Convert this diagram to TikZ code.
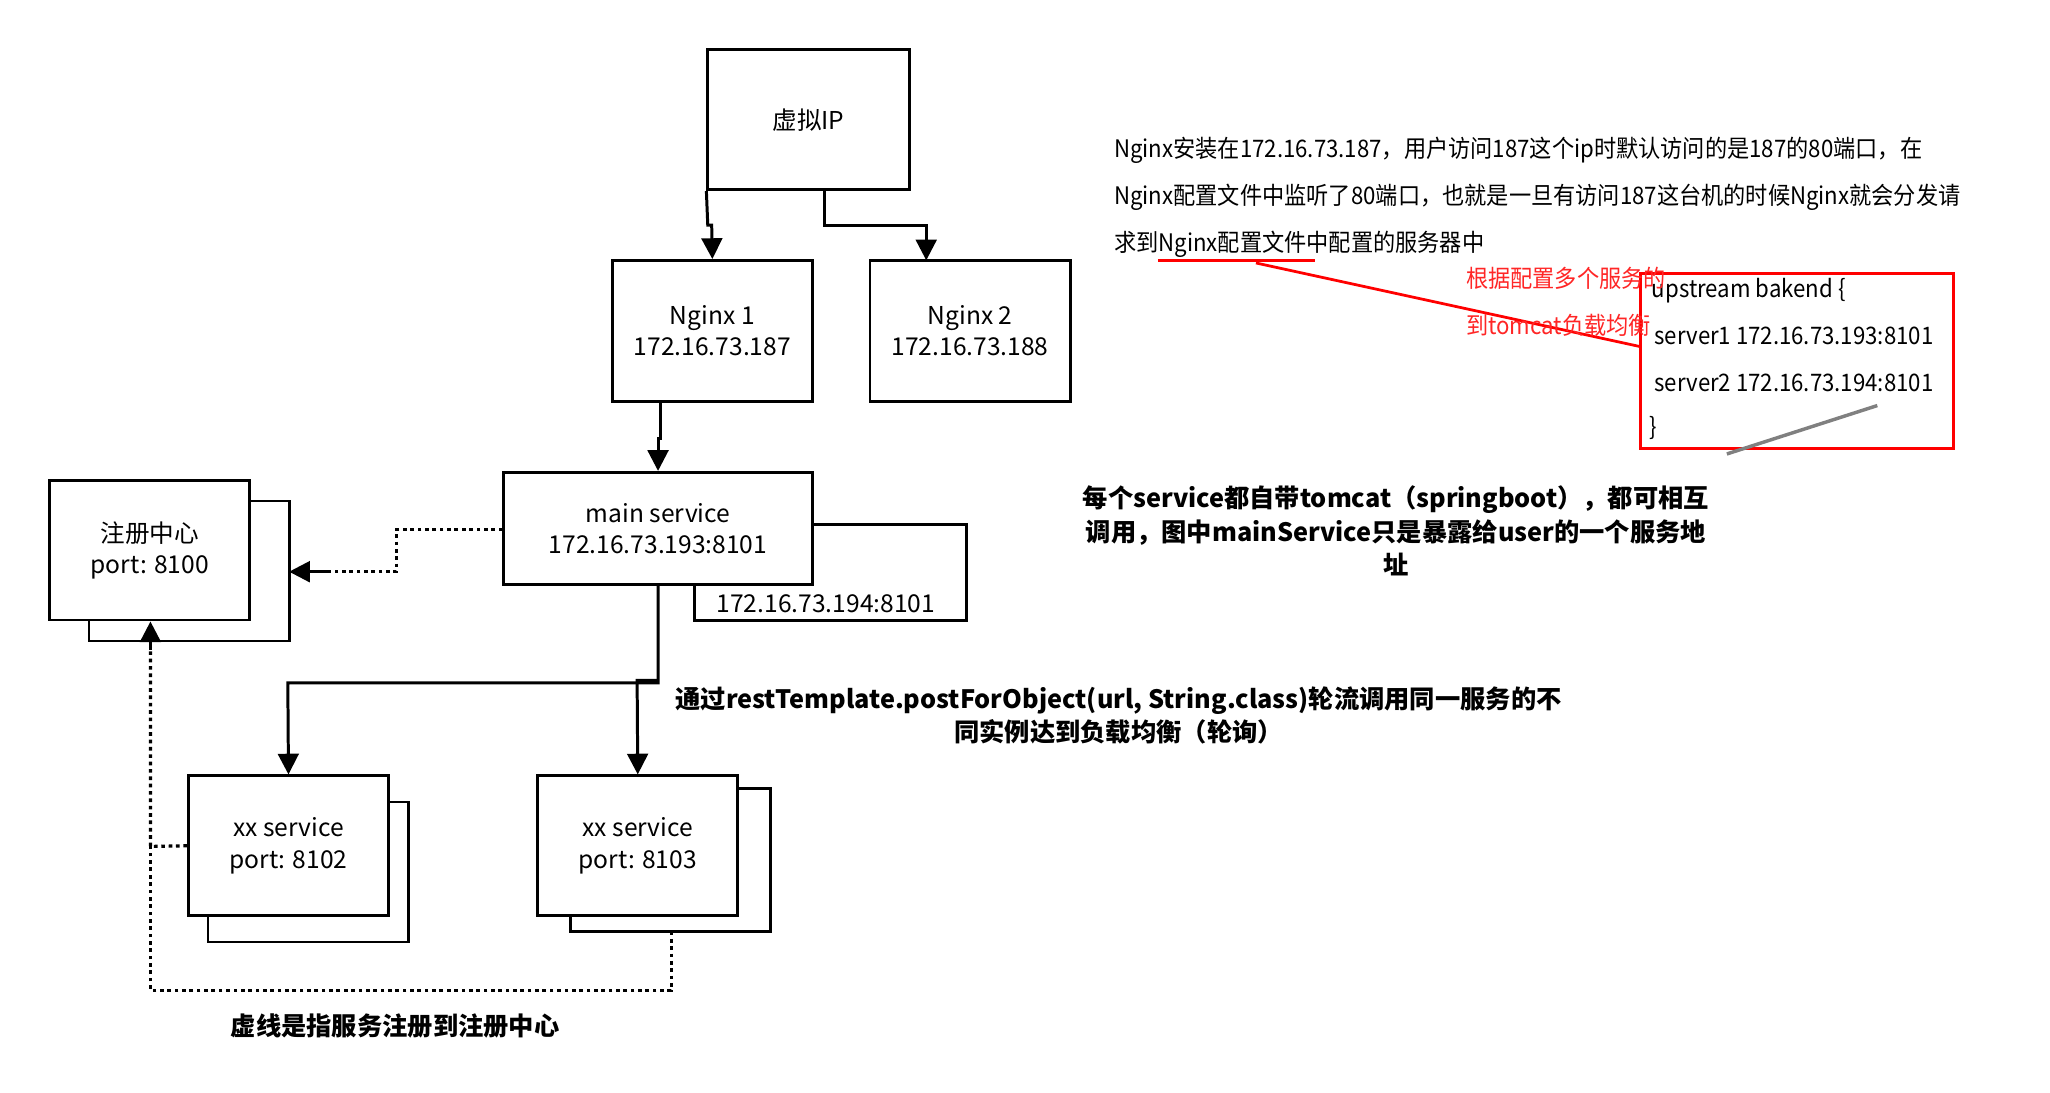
\documentclass[tikz,border=0pt]{standalone}
\usepackage{fontspec}
\setmainfont{Noto Sans CJK SC}
\usetikzlibrary{arrows.meta}
\begin{document}
\begin{tikzpicture}[x=0.02cm,y=-0.02cm,
  bx/.style={draw,line width=1.2pt,fill=white},
  lbl/.style={font=\fontsize{10.7}{13.5}\selectfont,align=center},
  arr/.style={line width=1.3pt,-{Triangle[length=9pt,width=9pt]}},
  dot/.style={line width=1.4pt,dash pattern=on 1.6pt off 1.6pt},
  bt/.style={font=\fontsize{11}{14.5}\selectfont\bfseries,align=center},
  sc/.style={font=\fontsize{10.5}{12}\selectfont,anchor=west,xscale=0.92}]
\useasboundingbox[fill=white] (0,0) rectangle (1567,835);
% top
\node[bx,minimum width=154*0.02cm,minimum height=107*0.02cm,lbl] (vip) at (618,91.5) {虚拟IP};
\node[bx,minimum width=153*0.02cm,minimum height=108*0.02cm,lbl] (n1) at (544.5,253) {Nginx 1\\172.16.73.187};
\node[bx,minimum width=153*0.02cm,minimum height=108*0.02cm,lbl] (n2) at (741.5,253) {Nginx 2\\172.16.73.188};
\draw[arr] (vip.south west) -- (541,172) -- (544,172) -- (n1.north);
\draw[arr] (630,145) -- (630,172) -- (708,172) -- (708,199);
% main
\node[bx,minimum width=208*0.02cm,minimum height=73*0.02cm,anchor=north west] (m2) at (530,400) {};
\node[lbl,anchor=south east] at (721,475) {172.16.73.194:8101};
\node[bx,minimum width=236*0.02cm,minimum height=86*0.02cm,lbl] (ms) at (503,404) {main service\\172.16.73.193:8101};
\draw[arr] (505,307) -- (505,335) -- (503,335) -- (ms.north);
% registry
\node[bx,minimum width=153*0.02cm,minimum height=107*0.02cm] (r2) at (144.5,436.5) {};
\node[bx,minimum width=153*0.02cm,minimum height=107*0.02cm,lbl] (reg) at (114.5,420.5) {注册中心\\port: 8100};
\draw[dot] (ms.west |- 0,405) -- (303,405) -- (303,437) -- (245,437);
\draw[arr] (250,437) -- (221,437);
% services
\node[bx,minimum width=153*0.02cm,minimum height=107*0.02cm] (s1b) at (235.5,666.5) {};
\node[bx,minimum width=153*0.02cm,minimum height=107*0.02cm,lbl] (s1) at (220.5,646.5) {xx service\\port: 8102};
\node[bx,minimum width=153*0.02cm,minimum height=109*0.02cm] (s2b) at (512.5,657.5) {};
\node[bx,minimum width=153*0.02cm,minimum height=107*0.02cm,lbl] (s2) at (487.5,646.5) {xx service\\port: 8103};
\draw[arr] (503,447) -- (503,522) -- (220,522) -- (s1.north);
\draw[arr] (503,520) -- (487,520) -- (s2.north);
\draw[dot] (s1.west) -- (115,647) -- (115,495);
\draw[arr] (115,497) -- (reg.south -| 115,0);
\draw[dot] (513,712) -- (513,757) -- (115,757) -- (115,647);
\node[bt] (t1) at (302,784) {虚线是指服务注册到注册中心};
\node[bt] (t2) at (855,547) {通过restTemplate.postForObject(url, String.class)轮流调用同一服务的不\\同实例达到负载均衡（轮询）};
\node[bt] (t3) at (1067,406) {每个service都自带tomcat（springboot），都可相互\\调用，图中mainService只是暴露给user的一个服务地\\址};
% screenshot
\node[sc] at (846,115) {Nginx安装在172.16.73.187，用户访问187这个ip时默认访问的是187的80端口，在};
\node[sc] at (846,151) {Nginx配置文件中监听了80端口，也就是一旦有访问187这台机的时候Nginx就会分发请};
\node[sc] at (846,187) {求到Nginx配置文件中配置的服务器中};
\draw[red,line width=1.4pt] (1254,209) rectangle (1493,343);
\node[sc] at (1257,222) {upstream bakend \{};
\node[sc] at (1259,257) {server1 172.16.73.193:8101};
\node[sc] at (1259,293) {server2 172.16.73.194:8101};
\node[sc] at (1255,327) {\}};
\draw[red,line width=1.2pt] (885,199) -- (1005,199);
\draw[red,line width=1.2pt] (960,201) -- (1254,265);
\node[sc,text=red!85] at (1115,213) {根据配置多个服务的};
\node[sc,text=red!85] at (1115,249) {到tomcat负载均衡};
\draw[gray,line width=1.5pt] (1320,347) -- (1435,310);
\end{tikzpicture}
\end{document}
